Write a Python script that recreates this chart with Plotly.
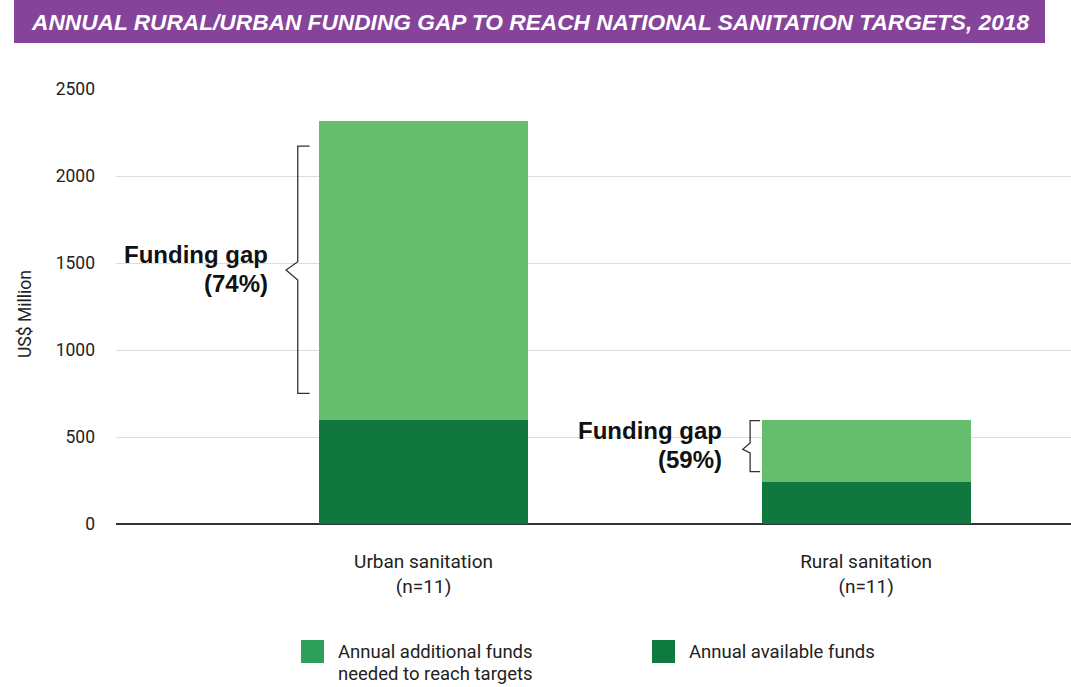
import plotly.graph_objects as go

# ---------------- data ----------------
categories = ["Urban sanitation<br>(n=11)", "Rural sanitation<br>(n=11)"]
available_funds = [600, 241]          # Annual available funds (US$ million)
additional_funds = [1716, 357]        # Annual additional funds needed (US$ million)
gap_labels = ["Funding gap<br>(74%)", "Funding gap<br>(59%)"]
y_ticks = [0, 500, 1000, 1500, 2000, 2500]
y_title = "US$ Million"

series_names = ["Annual additional funds<br>needed to reach targets", "Annual available funds"]

# ---------------- geometry helpers (pixel -> paper) ----------------
W, H = 1071, 687
L, R, T, B = 116, 0, 89, 163
PW, PH = W - L - R, H - T - B


def px(xp):
    return (xp - L) / PW


def py(yp):
    return (H - B - yp) / PH


LIGHT = "#64BE6E"
DARK = "#10783E"
LEG_LIGHT = "#2E9F58"
LEG_DARK = "#0F7A3F"
PURPLE = "#85449A"

xpos = list(range(len(categories)))

fig = go.Figure()
fig.add_trace(go.Bar(x=xpos, y=available_funds, name=series_names[1],
                     marker=dict(color=DARK, line=dict(width=0)), width=0.472,
                     showlegend=False))
fig.add_trace(go.Bar(x=xpos, y=additional_funds, name=series_names[0],
                     marker=dict(color=LIGHT, line=dict(width=0)), width=0.472,
                     showlegend=False))

shapes = []
annotations = []

# title bar
shapes.append(dict(type="rect", xref="paper", yref="paper",
                   x0=px(14), x1=px(1045), y0=py(43), y1=py(0),
                   fillcolor=PURPLE, line=dict(width=0), layer="above"))
annotations.append(dict(xref="paper", yref="paper", x=px(29), y=py(21.5),
                        xanchor="left", yanchor="middle", showarrow=False,
                        text="<b><i>ANNUAL RURAL/URBAN FUNDING GAP TO REACH NATIONAL SANITATION TARGETS, 2018</i></b>",
                        font=dict(family="Liberation Sans, Arial", size=22.7, color="white")))

# y-axis title
annotations.append(dict(xref="paper", yref="paper", x=px(25), y=py(314),
                        xanchor="center", yanchor="middle", textangle=-90,
                        showarrow=False, text=y_title,
                        font=dict(family="Roboto", size=17.5, color="#222222")))

# brackets, offsets relative to each bar's category position:
# (tick_dx, line_dx, point_dx, y_top, y_mid_top, y_point, y_mid_bot, y_bot)
brackets = [
    (-0.2576, -0.2843, -0.3107, 2172, 1507, 1460, 1402, 751),
    (-0.2395, -0.2621, -0.2787, 594, 466, 429, 408, 301),
]
for xc, (tx, lx, ptx, yt, ymt, yp, ymb, yb) in zip(xpos, brackets):
    tx, lx, ptx = xc + tx, xc + lx, xc + ptx
    path = (f"M {tx},{yt} L {lx},{yt} L {lx},{ymt} L {ptx},{yp} "
            f"L {lx},{ymb} L {lx},{yb} L {tx},{yb}")
    shapes.append(dict(type="path", xref="x", yref="y", path=path,
                       line=dict(color="#333333", width=1.3)))

# funding gap labels (each line placed separately for tight line spacing)
gap_pos = [(-0.347, 1463), (-0.321, 454)]
for xc, (gx, gy), txt in zip(xpos, gap_pos, gap_labels):
    lines = txt.split("<br>")
    for i, line in enumerate(lines):
        annotations.append(dict(xref="x", yref="y", x=xc + gx, y=gy, xanchor="right",
                                yanchor="middle", align="right", showarrow=False,
                                yshift=14.5 - 29 * i,
                                text=f"<b>{line}</b>",
                                font=dict(family="Liberation Sans, Arial", size=24,
                                          color="#111111")))

# manual legend
legend_items = [(301, LEG_LIGHT, series_names[0]), (652, LEG_DARK, series_names[1])]
for x0, col, name in legend_items:
    shapes.append(dict(type="rect", xref="paper", yref="paper",
                       x0=px(x0), x1=px(x0 + 23), y0=py(663), y1=py(640),
                       fillcolor=col, line=dict(width=0)))
    for i, line in enumerate(name.split("<br>")):
        annotations.append(dict(xref="paper", yref="paper", x=px(x0 + 35), y=py(652 + 22 * i),
                                xanchor="left", yanchor="middle", align="left",
                                showarrow=False, text=line,
                                font=dict(family="Roboto", size=18.5, color="#222222")))

fig.update_layout(
    width=W, height=H,
    margin=dict(l=L, r=R, t=T, b=B),
    barmode="stack",
    bargap=0,
    plot_bgcolor="white", paper_bgcolor="white",
    showlegend=False,
    shapes=shapes,
    annotations=annotations,
    font=dict(family="Roboto", color="#222222"),
)
fig.update_xaxes(range=[-0.695, 1.463], tickvals=xpos, ticktext=categories,
                 showgrid=False, zeroline=False, showline=False, ticks="",
                 ticklabelstandoff=24,
                 tickfont=dict(family="Roboto", size=19, color="#222222"))
fig.update_yaxes(range=[0, 2500], tickvals=y_ticks, showgrid=True,
                 gridcolor="#DDDDDD", gridwidth=1,
                 zeroline=True, zerolinecolor="#333333", zerolinewidth=1.5,
                 showline=False, ticks="", ticklabelstandoff=20,
                 tickfont=dict(family="Roboto", size=17.5, color="#222222"))

fig.write_html("out.html", config={"displayModeBar": False})

# remove the default page margin so the figure sits at the window's top-left corner
with open("out.html", "r", encoding="utf-8") as f:
    html = f.read()
html = html.replace("<head>", "<head><style>html,body{margin:0;padding:0;overflow:hidden;}</style>", 1)
with open("out.html", "w", encoding="utf-8") as f:
    f.write(html)
